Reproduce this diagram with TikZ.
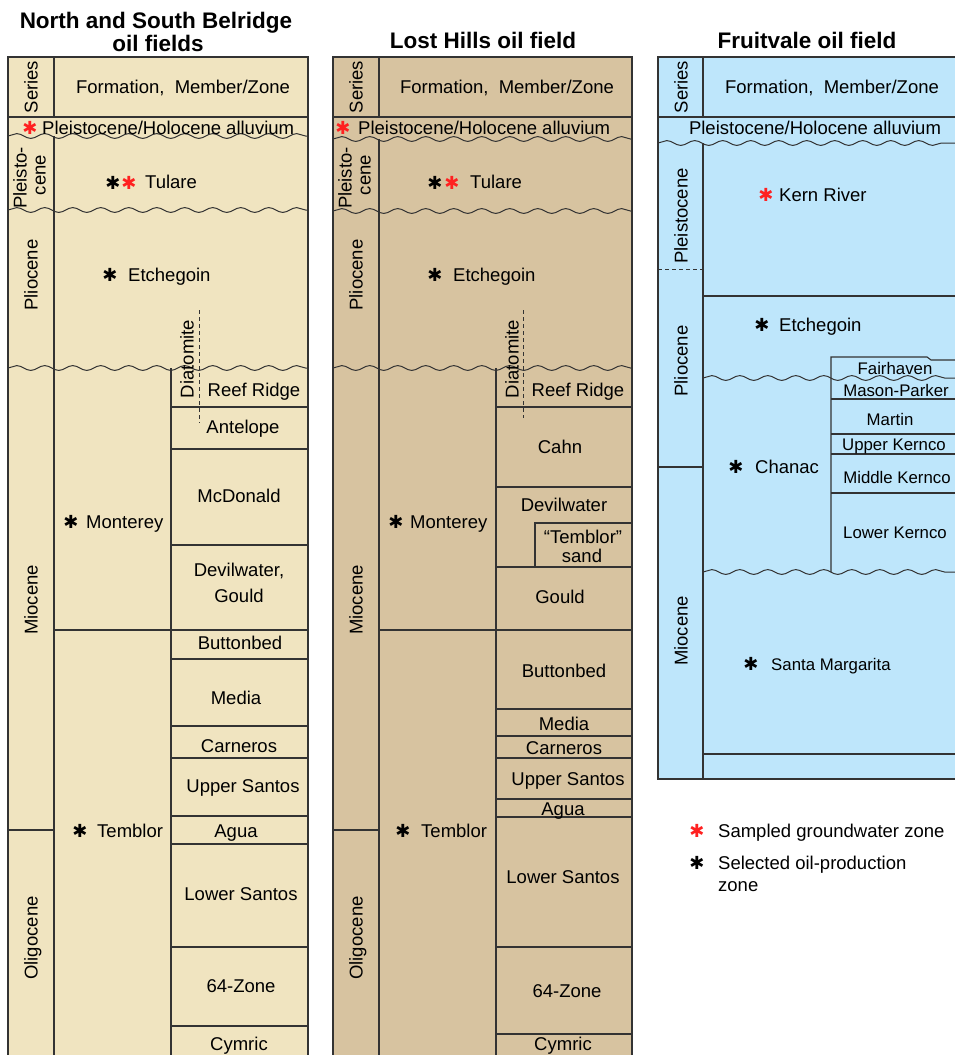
\documentclass[tikz,border=0pt]{standalone}
\usepackage{fontspec}
\setmainfont{Liberation Sans}
\newfontfamily\symf{DejaVu Sans}
\usetikzlibrary{decorations.pathmorphing}
\definecolor{tanA}{HTML}{F0E4C0}
\definecolor{tanB}{HTML}{D7C3A0}
\definecolor{blueC}{HTML}{BEE6FB}
\definecolor{lnc}{HTML}{333333}
\definecolor{astred}{HTML}{FF2020}
\begin{document}
\begin{tikzpicture}[x=1pt,y=-1pt,
 ln/.style={draw=lnc,line width=1.1pt},
 dl/.style={draw=lnc,line width=1pt,dash pattern=on 4pt off 3pt},
 wavy/.style={draw=lnc,line width=1pt,decorate,decoration={snake,segment length=28pt,amplitude=2.4pt}},
 t/.style={inner sep=0pt,font=\fontsize{18.5}{20}\selectfont,text height=14pt,text depth=0.8pt},
 ts/.style={inner sep=0pt,font=\fontsize{16.8}{18}\selectfont,text height=12.6pt,text depth=0.6pt},
 tl/.style={t,anchor=west},
 tsl/.style={ts,anchor=west},
 rt/.style={t,rotate=90},
 ttl/.style={inner sep=0pt,font=\fontsize{22.5}{24}\bfseries\selectfont,text height=16.3pt,text depth=0pt},
 ak/.style={inner sep=0pt,font=\symf\fontsize{18}{18}\selectfont,text=black},
 ar/.style={ak,text=astred}
]
\useasboundingbox (0,0) rectangle (955,1055);
\fill[white] (0,0) rectangle (955,1055);

% ================= Column 1: Belridge =================
\fill[tanA] (8,57) rectangle (308,1055);
\draw[ln] (8,1055) -- (8,57) -- (308,57) -- (308,1055);
\draw[ln] (8,117) -- (308,117);
\draw[ln] (54,57) -- (54,117);
\draw[ln] (54,136) -- (54,1055);
\draw[wavy] (8,136) -- (308,136);
\draw[wavy] (8,210) -- (308,210);
\draw[wavy] (8,368) -- (308,368);
\draw[ln] (171,368) -- (171,1055);
\draw[ln] (8,830) -- (54,830);
\draw[ln] (54,630) -- (308,630);
\foreach \yy in {407,449,545,659,726,758,816,844,947,1026}
  \draw[ln] (171,\yy) -- (308,\yy);
\draw[dl] (199,310) -- (199,423);

\node[ttl] (t1a) at (156,20) {North and South Belridge};
\node[ttl] (t1b) at (158,43) {oil fields};
\node[rt] (s1) at (31,87) {Series};
\node[t] (h1) at (183,87) {Formation, \ Member/Zone};
\node[ar] (a1r) at (30,128) {✱};
\node[tl] (al1) at (42,128) {Pleistocene/Holocene alluvium};
\node[rt] (p1a) at (20,178) {Pleisto-};
\node[rt] (p1b) at (39,175) {cene};
\node[ak] (tu1k) at (113,183) {✱};
\node[ar] (tu1r) at (129,183) {✱};
\node[tl] (tu1) at (145,182) {Tulare};
\node[rt] (pl1) at (31,275) {Pliocene};
\node[ak] (et1k) at (110,275) {✱};
\node[tl] (et1) at (128,275) {Etchegoin};
\node[rt] (di1) at (187,359) {Diatomite};
\node[rt] (mi1) at (31,600) {Miocene};
\node[rt] (ol1) at (31,938) {Oligocene};
\node[ak] (mo1k) at (71,522) {✱};
\node[tl] (mo1) at (86,522) {Monterey};
\node[ak] (te1k) at (80,831) {✱};
\node[tl] (te1) at (97,831) {Temblor};
\node[t] (m1a) at (254,390) {Reef Ridge};
\node[t] (m1b) at (243,427) {Antelope};
\node[t] (m1c) at (239,496) {McDonald};
\node[t] (m1d) at (239,570) {Devilwater,};
\node[t] (m1e) at (239,596) {Gould};
\node[t] (m1f) at (240,643) {Buttonbed};
\node[t] (m1g) at (236,698) {Media};
\node[t] (m1h) at (239,746) {Carneros};
\node[t] (m1i) at (243,786) {Upper Santos};
\node[t] (m1j) at (236,831) {Agua};
\node[t] (m1k) at (241,894) {Lower Santos};
\node[t] (m1l) at (241,986) {64-Zone};
\node[t] (m1m) at (239,1044) {Cymric};

% ================= Column 2: Lost Hills =================
\fill[tanB] (333,57) rectangle (632,1055);
\draw[ln] (333,1055) -- (333,57) -- (632,57) -- (632,1055);
\draw[ln] (333,117) -- (632,117);
\draw[ln] (379,57) -- (379,117);
\draw[ln] (379,139) -- (379,1055);
\draw[wavy] (333,139) -- (632,139);
\draw[wavy] (333,211) -- (632,211);
\draw[wavy] (333,368) -- (632,368);
\draw[ln] (496,368) -- (496,1055);
\draw[ln] (333,830) -- (379,830);
\draw[ln] (379,630) -- (632,630);
\foreach \yy in {407,487,567,709,736,758,799,817,947,1034}
  \draw[ln] (496,\yy) -- (632,\yy);
\draw[ln] (535,567) -- (535,523) -- (632,523);
\draw[dl] (523,310) -- (523,418);

\node[ttl] (t2) at (483,40) {Lost Hills oil field};
\node[rt] (s2) at (356,87) {Series};
\node[t] (h2) at (507,87) {Formation, \ Member/Zone};
\node[ar] (a2r) at (343,128) {✱};
\node[tl] (al2) at (358,128) {Pleistocene/Holocene alluvium};
\node[rt] (p2a) at (345,178) {Pleisto-};
\node[rt] (p2b) at (364,175) {cene};
\node[ak] (tu2k) at (435,183) {✱};
\node[ar] (tu2r) at (452,183) {✱};
\node[tl] (tu2) at (470,182) {Tulare};
\node[rt] (pl2) at (356,275) {Pliocene};
\node[ak] (et2k) at (435,275) {✱};
\node[tl] (et2) at (453,275) {Etchegoin};
\node[rt] (di2) at (512,359) {Diatomite};
\node[rt] (mi2) at (356,600) {Miocene};
\node[rt] (ol2) at (356,938) {Oligocene};
\node[ak] (mo2k) at (396,522) {✱};
\node[tl] (mo2) at (410,522) {Monterey};
\node[ak] (te2k) at (403,831) {✱};
\node[tl] (te2) at (421,831) {Temblor};
\node[t] (m2a) at (578,390) {Reef Ridge};
\node[t] (m2b) at (560,447) {Cahn};
\node[t] (m2c) at (564,505) {Devilwater};
\node[t] (m2d) at (583,537) {``Temblor''};
\node[t] (m2e) at (582,556) {sand};
\node[t] (m2f) at (560,597) {Gould};
\node[t] (m2g) at (564,671) {Buttonbed};
\node[t] (m2h) at (564,724) {Media};
\node[t] (m2i) at (564,748) {Carneros};
\node[t] (m2j) at (568,779) {Upper Santos};
\node[t] (m2k) at (563,809) {Agua};
\node[t] (m2l) at (563,877) {Lower Santos};
\node[t] (m2m) at (567,991) {64-Zone};
\node[t] (m2n) at (563,1044) {Cymric};

% ================= Column 3: Fruitvale =================
\fill[blueC] (658,57) rectangle (955,779);
\draw[ln] (955,57) -- (658,57) -- (658,779) -- (955,779);
\draw[ln] (658,117) -- (955,117);
\draw[ln] (703,57) -- (703,117);
\draw[ln] (703,143) -- (703,779);
\draw[wavy] (658,143) -- (955,143);
\draw[dl] (658,269) -- (703,269);
\draw[ln] (658,467) -- (703,467);
\draw[ln] (703,296) -- (955,296);
\draw[wavy] (703,378) -- (955,378);
\draw[wavy] (703,572) -- (955,572);
\draw[ln] (703,754) -- (955,754);
\draw[ln] (831,572) -- (831,357) -- (927,357) -- (931,360) -- (955,360);
\foreach \yy in {399,434,454,493}
  \draw[ln] (831,\yy) -- (955,\yy);

\node[ttl] (t3) at (807,40) {Fruitvale oil field};
\node[rt] (s3) at (681,87) {Series};
\node[t] (h3) at (832,87) {Formation, \ Member/Zone};
\node[t] (al3) at (815,128) {Pleistocene/Holocene alluvium};
\node[rt] (ps3) at (681,216) {Pleistocene};
\node[rt] (pl3) at (681,361) {Pliocene};
\node[rt] (mi3) at (681,631) {Miocene};
\node[ar] (kr3r) at (766,195) {✱};
\node[tl] (kr3) at (779,195) {Kern River};
\node[ak] (et3k) at (762,325) {✱};
\node[tl] (et3) at (779,325) {Etchegoin};
\node[ak] (ch3k) at (736,467) {✱};
\node[tl] (ch3) at (755,467) {Chanac};
\node[ts] (m3a) at (895,368) {Fairhaven};
\node[ts] (m3b) at (896,390) {Mason-Parker};
\node[ts] (m3c) at (890,419) {Martin};
\node[ts] (m3d) at (894,444) {Upper Kernco};
\node[ts] (m3e) at (897,477) {Middle Kernco};
\node[ts] (m3f) at (895,532) {Lower Kernco};
\node[ak] (sm3k) at (751,664) {✱};
\node[tsl] (sm3) at (771,664) {Santa Margarita};

% ================= Legend =================
\node[ar] (lg1k) at (697,831) {✱};
\node[tl] (lg1) at (718,831) {Sampled groundwater zone};
\node[ak] (lg2k) at (697,863) {✱};
\node[tl] (lg2) at (718,863) {Selected oil-production};
\node[tl] (lg3) at (718,885) {zone};
\end{tikzpicture}
\end{document}
